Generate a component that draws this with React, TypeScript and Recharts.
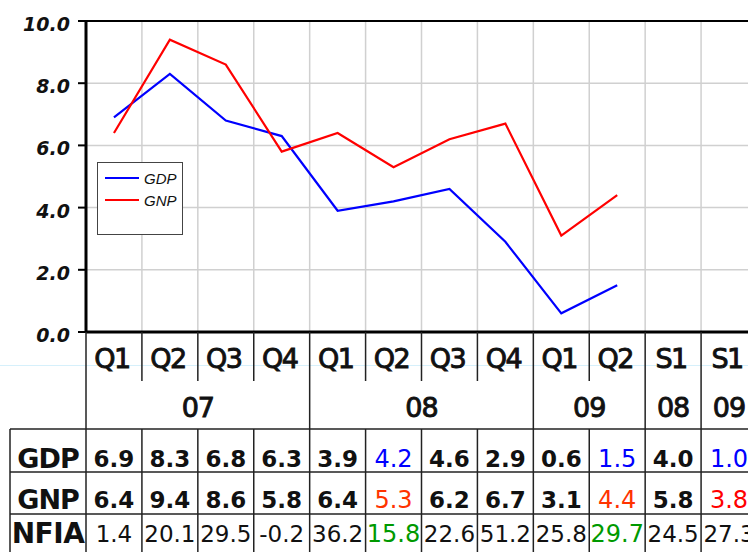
import { LineChart, Line, XAxis, YAxis, CartesianGrid, ReferenceLine, Legend } from 'recharts';

// categories
const quarters = ['Q1', 'Q2', 'Q3', 'Q4', 'Q1', 'Q2', 'Q3', 'Q4', 'Q1', 'Q2', 'S1', 'S1'];
const years = ['07', '07', '07', '07', '08', '08', '08', '08', '09', '09', '08', '09'];

// series values (growth, %)
const gdp = [6.9, 8.3, 6.8, 6.3, 3.9, 4.2, 4.6, 2.9, 0.6, 1.5, 4.0, 1.0];
const gnp = [6.4, 9.4, 8.6, 5.8, 6.4, 5.3, 6.2, 6.7, 3.1, 4.4, 5.8, 3.8];
const nfia = [1.4, 20.1, 29.5, -0.2, 36.2, 15.8, 22.6, 51.2, 25.8, 29.7, 24.5, 27.3];

const yTicks = [0, 2, 4, 6, 8, 10];

// highlighted cells in the table
const gdpHighlight: Record<number, string> = { 5: '#0000ff', 9: '#0000ff', 11: '#0000ff' };
const gnpHighlight: Record<number, string> = { 5: '#ff3300', 9: '#ff3300', 11: '#ff0000' };
const nfiaHighlight: Record<number, string> = { 5: '#009900', 9: '#009900' };

const data = quarters.map((q, i) => ({
  idx: i,
  GDP: q.startsWith('Q') ? gdp[i] : null,
  GNP: q.startsWith('Q') ? gnp[i] : null,
}));

const LEGEND_H = 73; // legend box is floated over the plot, but recharts still reserves its height
const W = 760;
const H = 563 + LEGEND_H;
const LEFT = 86;
const RIGHT = 3;
const BAND = (W - LEFT - RIGHT) / quarters.length;
const LINE = '#222';
const FONT = '"DejaVu Sans", Verdana, sans-serif';

const YTick = (props: any) => {
  const { x, y, payload } = props;
  return (
    <text x={x} y={y + 10} textAnchor="end" fontFamily={FONT} fontSize={19} fontWeight="bold" fontStyle="italic" fill="#111">
      {Number(payload.value).toFixed(1)}
    </text>
  );
};

const QTick = (props: any) => {
  const { x, y, payload } = props;
  return (
    <g>
      <line x1={x - BAND / 2} x2={x - BAND / 2} y1={y} y2={y + 49} stroke={LINE} strokeWidth={1.5} />
      <text x={x - 2} y={y + 36} textAnchor="middle" fontFamily={FONT} fontSize={27} letterSpacing={-1.5} fill="#111" stroke="#111" strokeWidth={0.9}>
        {quarters[payload.value]}
      </text>
    </g>
  );
};

const YearTick = (props: any) => {
  const { x, y, payload } = props;
  const i = payload.value;
  if (i > 0 && years[i - 1] === years[i] && quarters[i - 1][0] === quarters[i][0]) return <g />;
  let n = 1;
  while (i + n < years.length && years[i + n] === years[i] && quarters[i + n][0] === quarters[i][0]) n++;
  return (
    <g>
      <line x1={x - BAND / 2} x2={x - BAND / 2} y1={y} y2={y + 48} stroke={LINE} strokeWidth={1.5} />
      <text x={x + ((n - 1) * BAND) / 2} y={y + 36} textAnchor="middle" fontFamily={FONT} fontSize={27} letterSpacing={-1} fill="#111" stroke="#111" strokeWidth={0.9}>
        {years[i]}
      </text>
    </g>
  );
};

const makeRowTick = (label: string, values: number[], highlight: Record<number, string>, rowH: number, base: number, bold: boolean, size: number) =>
  (props: any) => {
    const { x, y, payload } = props;
    const i = payload.value;
    const hl = highlight[i];
    return (
      <g>
        {i === 0 && (
          <g>
            <line x1={10} x2={W} y1={y} y2={y} stroke={LINE} strokeWidth={1.5} />
            <line x1={10} x2={10} y1={y} y2={y + rowH} stroke={LINE} strokeWidth={1.5} />
            <text
              x={48}
              y={y + base + 1}
              textAnchor="middle"
              fontFamily={FONT}
              fontSize={label === 'NFIA' ? 28 : 27}
              fontWeight="bold"
              letterSpacing={label === 'NFIA' ? -0.5 : -1}
              fill="#111"
            >
              {label}
            </text>
          </g>
        )}
        <line x1={x - BAND / 2} x2={x - BAND / 2} y1={y} y2={y + rowH} stroke={LINE} strokeWidth={1.5} />
        <text
          x={x}
          y={y + base}
          textAnchor="middle"
          fontFamily={FONT}
          fontSize={hl ? size + 1 : size}
          fontWeight={bold && !hl ? 'bold' : 'normal'}
          fill={hl || '#111'}
        >
          {values[i].toFixed(1)}
        </text>
      </g>
    );
  };

const GdpTick = makeRowTick('GDP', gdp, gdpHighlight, 43, 38, true, 23);
const GnpTick = makeRowTick('GNP', gnp, gnpHighlight, 42, 36, true, 23);
const NfiaTick = makeRowTick('NFIA', nfia, nfiaHighlight, 43, 28, false, 23);

const LegendBox = (props: any) => {
  const { payload } = props;
  return (
    <div style={{ paddingTop: 4 }}>
      {(payload || []).map((entry: any) => (
        <div key={entry.value} style={{ display: 'flex', alignItems: 'center', height: 22 }}>
          <svg width={46} height={10}>
            <line x1={7} x2={41} y1={5} y2={5} stroke={entry.color} strokeWidth={2} />
          </svg>
          <span style={{ fontFamily: '"Liberation Sans", Arial, sans-serif', fontStyle: 'italic', fontSize: 15, color: '#111' }}>
            {entry.value}
          </span>
        </div>
      ))}
    </div>
  );
};

const pad = { left: BAND / 2, right: BAND / 2 };

export default function App() {
  return (
    <div style={{ position: 'absolute', left: 0, top: 0, width: 748, height: 552, overflow: 'hidden', background: '#fff' }}>
      <div style={{ position: 'absolute', left: 0, top: 365, width: 748, height: 1, background: '#d6f0fb' }} />
      <LineChart width={W} height={H} data={data} margin={{ top: 21, right: RIGHT, left: 0, bottom: 6 }}>
        <CartesianGrid
          xAxisId="a_q"
          stroke="#d0d0d0"
          strokeWidth={1.5}
          verticalCoordinatesGenerator={({ offset }: any) =>
            quarters.slice(1).map((_, i) => offset.left + ((i + 1) * offset.width) / quarters.length)
          }
        />
        <XAxis xAxisId="a_q" dataKey="idx" padding={pad} height={49} interval={0} tickSize={0} tickMargin={0} tickLine={false} axisLine={{ stroke: '#000', strokeWidth: 3 }} tick={<QTick />} />
        <XAxis xAxisId="b_year" dataKey="idx" padding={pad} height={48} interval={0} tickSize={0} tickMargin={0} tickLine={false} axisLine={false} tick={<YearTick />} />
        <XAxis xAxisId="c_gdp" dataKey="idx" padding={pad} height={43} interval={0} tickSize={0} tickMargin={0} tickLine={false} axisLine={false} tick={<GdpTick />} />
        <XAxis xAxisId="d_gnp" dataKey="idx" padding={pad} height={42} interval={0} tickSize={0} tickMargin={0} tickLine={false} axisLine={false} tick={<GnpTick />} />
        <XAxis xAxisId="e_nfia" dataKey="idx" padding={pad} height={43} interval={0} tickSize={0} tickMargin={0} tickLine={false} axisLine={false} tick={<NfiaTick />} />
        <YAxis
          width={LEFT}
          domain={[0, 10]}
          ticks={yTicks}
          interval={0}
          tickSize={8}
          tickMargin={8}
          tickLine={{ stroke: '#000', strokeWidth: 2 }}
          axisLine={{ stroke: '#000', strokeWidth: 3 }}
          tick={<YTick />}
        />
        <ReferenceLine xAxisId="a_q" y={10} stroke="#000" strokeWidth={2} />
        <Legend
          content={<LegendBox />}
          wrapperStyle={{ position: 'absolute', left: 97, top: 162, width: 84, height: 71, border: '1px solid #444', background: '#fff' }}
        />
        <Line xAxisId="a_q" type="linear" dataKey="GDP" stroke="#0000ff" strokeWidth={2.2} dot={false} isAnimationActive={false} />
        <Line xAxisId="a_q" type="linear" dataKey="GNP" stroke="#ff0000" strokeWidth={2.2} dot={false} isAnimationActive={false} />
      </LineChart>
    </div>
  );
}
